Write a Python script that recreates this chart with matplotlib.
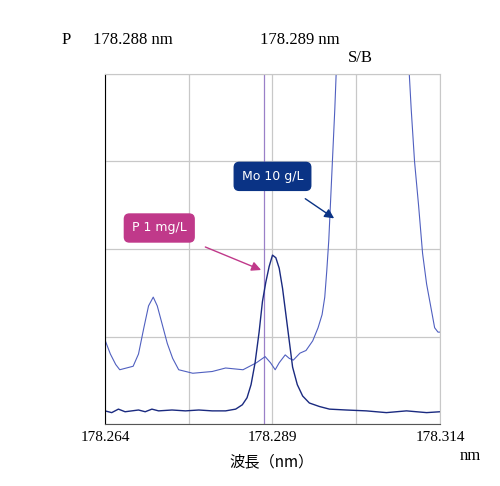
import numpy as np
import matplotlib
matplotlib.use("Agg")
from matplotlib import pyplot as plt

plt.rcParams['font.family'] = ['Liberation Serif', 'Noto Sans CJK JP', 'DejaVu Sans']

# wavelength (nm) and intensity
p_x = [178.2640, 178.2650, 178.2660, 178.2670, 178.2680, 178.2690, 178.2700, 178.2710,
       178.2720, 178.2740, 178.2760, 178.2780, 178.2800, 178.2820, 178.2835, 178.2845,
       178.2852, 178.2858, 178.2864, 178.2870, 178.2875, 178.2880, 178.2885, 178.2890,
       178.2895, 178.2900, 178.2905, 178.2910, 178.2915, 178.2920, 178.2927, 178.2935,
       178.2945, 178.2960, 178.2975, 178.3000, 178.3030, 178.3060, 178.3090, 178.3120,
       178.3140]
p_y = [0.15, 0.13, 0.17, 0.14, 0.15, 0.16, 0.14, 0.17, 0.15, 0.16, 0.15, 0.16, 0.15,
       0.15, 0.17, 0.22, 0.30, 0.45, 0.70, 1.05, 1.40, 1.62, 1.80, 1.93, 1.90, 1.78,
       1.55, 1.25, 0.95, 0.65, 0.45, 0.32, 0.24, 0.20, 0.17, 0.16, 0.15, 0.13, 0.15,
       0.13, 0.14]

mo_x = [178.2640, 178.2648, 178.2656, 178.2662, 178.2672, 178.2682, 178.2690, 178.2698,
        178.2705, 178.2712, 178.2718, 178.2725, 178.2733, 178.2741, 178.2750, 178.2771,
        178.2800, 178.2820, 178.2846, 178.2866, 178.2879, 178.2887, 178.2894, 178.2900,
        178.2909, 178.2915, 178.2921, 178.2931, 178.2940, 178.2950, 178.2958, 178.2964,
        178.2968, 178.2971, 178.2974, 178.2977, 178.2980, 178.2983, 178.2986, 178.3000,
        178.3040, 178.3080, 178.3092, 178.3097, 178.3102, 178.3108, 178.3114, 178.3120,
        178.3126, 178.3132, 178.3137, 178.3140]
mo_y = [0.96, 0.80, 0.68, 0.62, 0.64, 0.66, 0.80, 1.10, 1.35, 1.45, 1.35, 1.15, 0.92,
        0.75, 0.62, 0.58, 0.60, 0.64, 0.62, 0.70, 0.77, 0.70, 0.62, 0.70, 0.79, 0.75,
        0.73, 0.81, 0.84, 0.95, 1.10, 1.25, 1.45, 1.75, 2.10, 2.60, 3.10, 3.60, 4.20,
        6.0, 8.0, 6.0, 4.3, 3.6, 3.0, 2.5, 1.95, 1.60, 1.35, 1.10, 1.05, 1.05]

fig = plt.figure(figsize=(5, 4.86), dpi=100)
ax = fig.add_axes([105 / 500, 1 - 424 / 486, 335 / 500, 350 / 486])

ax.set_xlim(178.264, 178.314)
ax.set_ylim(0, 4)
ax.set_xticks(np.arange(178.264, 178.3141, 0.0125))
ax.set_yticks([0, 1, 2, 3, 4])
ax.grid(color='#c8c8c8', lw=0.9)
ax.tick_params(length=0, labelleft=False, labelbottom=False)
for s in ['top', 'right']:
    ax.spines[s].set_color('#c8c8c8')
ax.spines['left'].set_color('black')
ax.spines['bottom'].set_color('#555555')

ax.axvline(178.2878, color='#9a80c8', lw=0.9)
ax.plot(mo_x, mo_y, color='#5060c0', lw=0.8)
ax.plot(p_x, p_y, color='#1a2a80', lw=1.0)

for xv, lab in [(178.264, '178.264'), (178.289, '178.289'), (178.314, '178.314')]:
    ax.text(xv, -0.08, lab, ha='center', va='top', fontsize=11)

ax.annotate('Mo 10 g/L', xy=(178.2982, 2.35), xytext=(178.289, 2.83),
            ha='center', va='center', color='white', fontsize=9, family='DejaVu Sans',
            bbox=dict(boxstyle='round,pad=0.6,rounding_size=0.4', fc='#0a3385', ec='#0a3385'),
            arrowprops=dict(arrowstyle='-|>', color='#0a3385', lw=1, mutation_scale=14,
                            shrinkA=10, shrinkB=0))
ax.annotate('P 1 mg/L', xy=(178.2873, 1.76), xytext=(178.2721, 2.24),
            ha='center', va='center', color='white', fontsize=9, family='DejaVu Sans',
            bbox=dict(boxstyle='round,pad=0.6,rounding_size=0.4', fc='#c0398a', ec='#c0398a'),
            arrowprops=dict(arrowstyle='-|>', color='#c0398a', lw=1, mutation_scale=14,
                            shrinkA=10, shrinkB=0))

fig.text(62 / 500, 1 - 40 / 486, 'P', fontsize=12, va='center')
fig.text(93 / 500, 1 - 40 / 486, '178.288 nm', fontsize=12, va='center')
fig.text(260 / 500, 1 - 40 / 486, '178.289 nm', fontsize=12, va='center')
fig.text(348 / 500, 1 - 58 / 486, 'S/B', fontsize=12, va='center')
fig.text(460 / 500, 1 - 456 / 486, 'nm', fontsize=12, va='center')
fig.text(272 / 500, 1 - 462 / 486, '波長（nm）', fontsize=11, va='center', ha='center',
         family=['Noto Sans CJK JP', 'DejaVu Sans'])

fig.savefig('out.png', dpi=100)
